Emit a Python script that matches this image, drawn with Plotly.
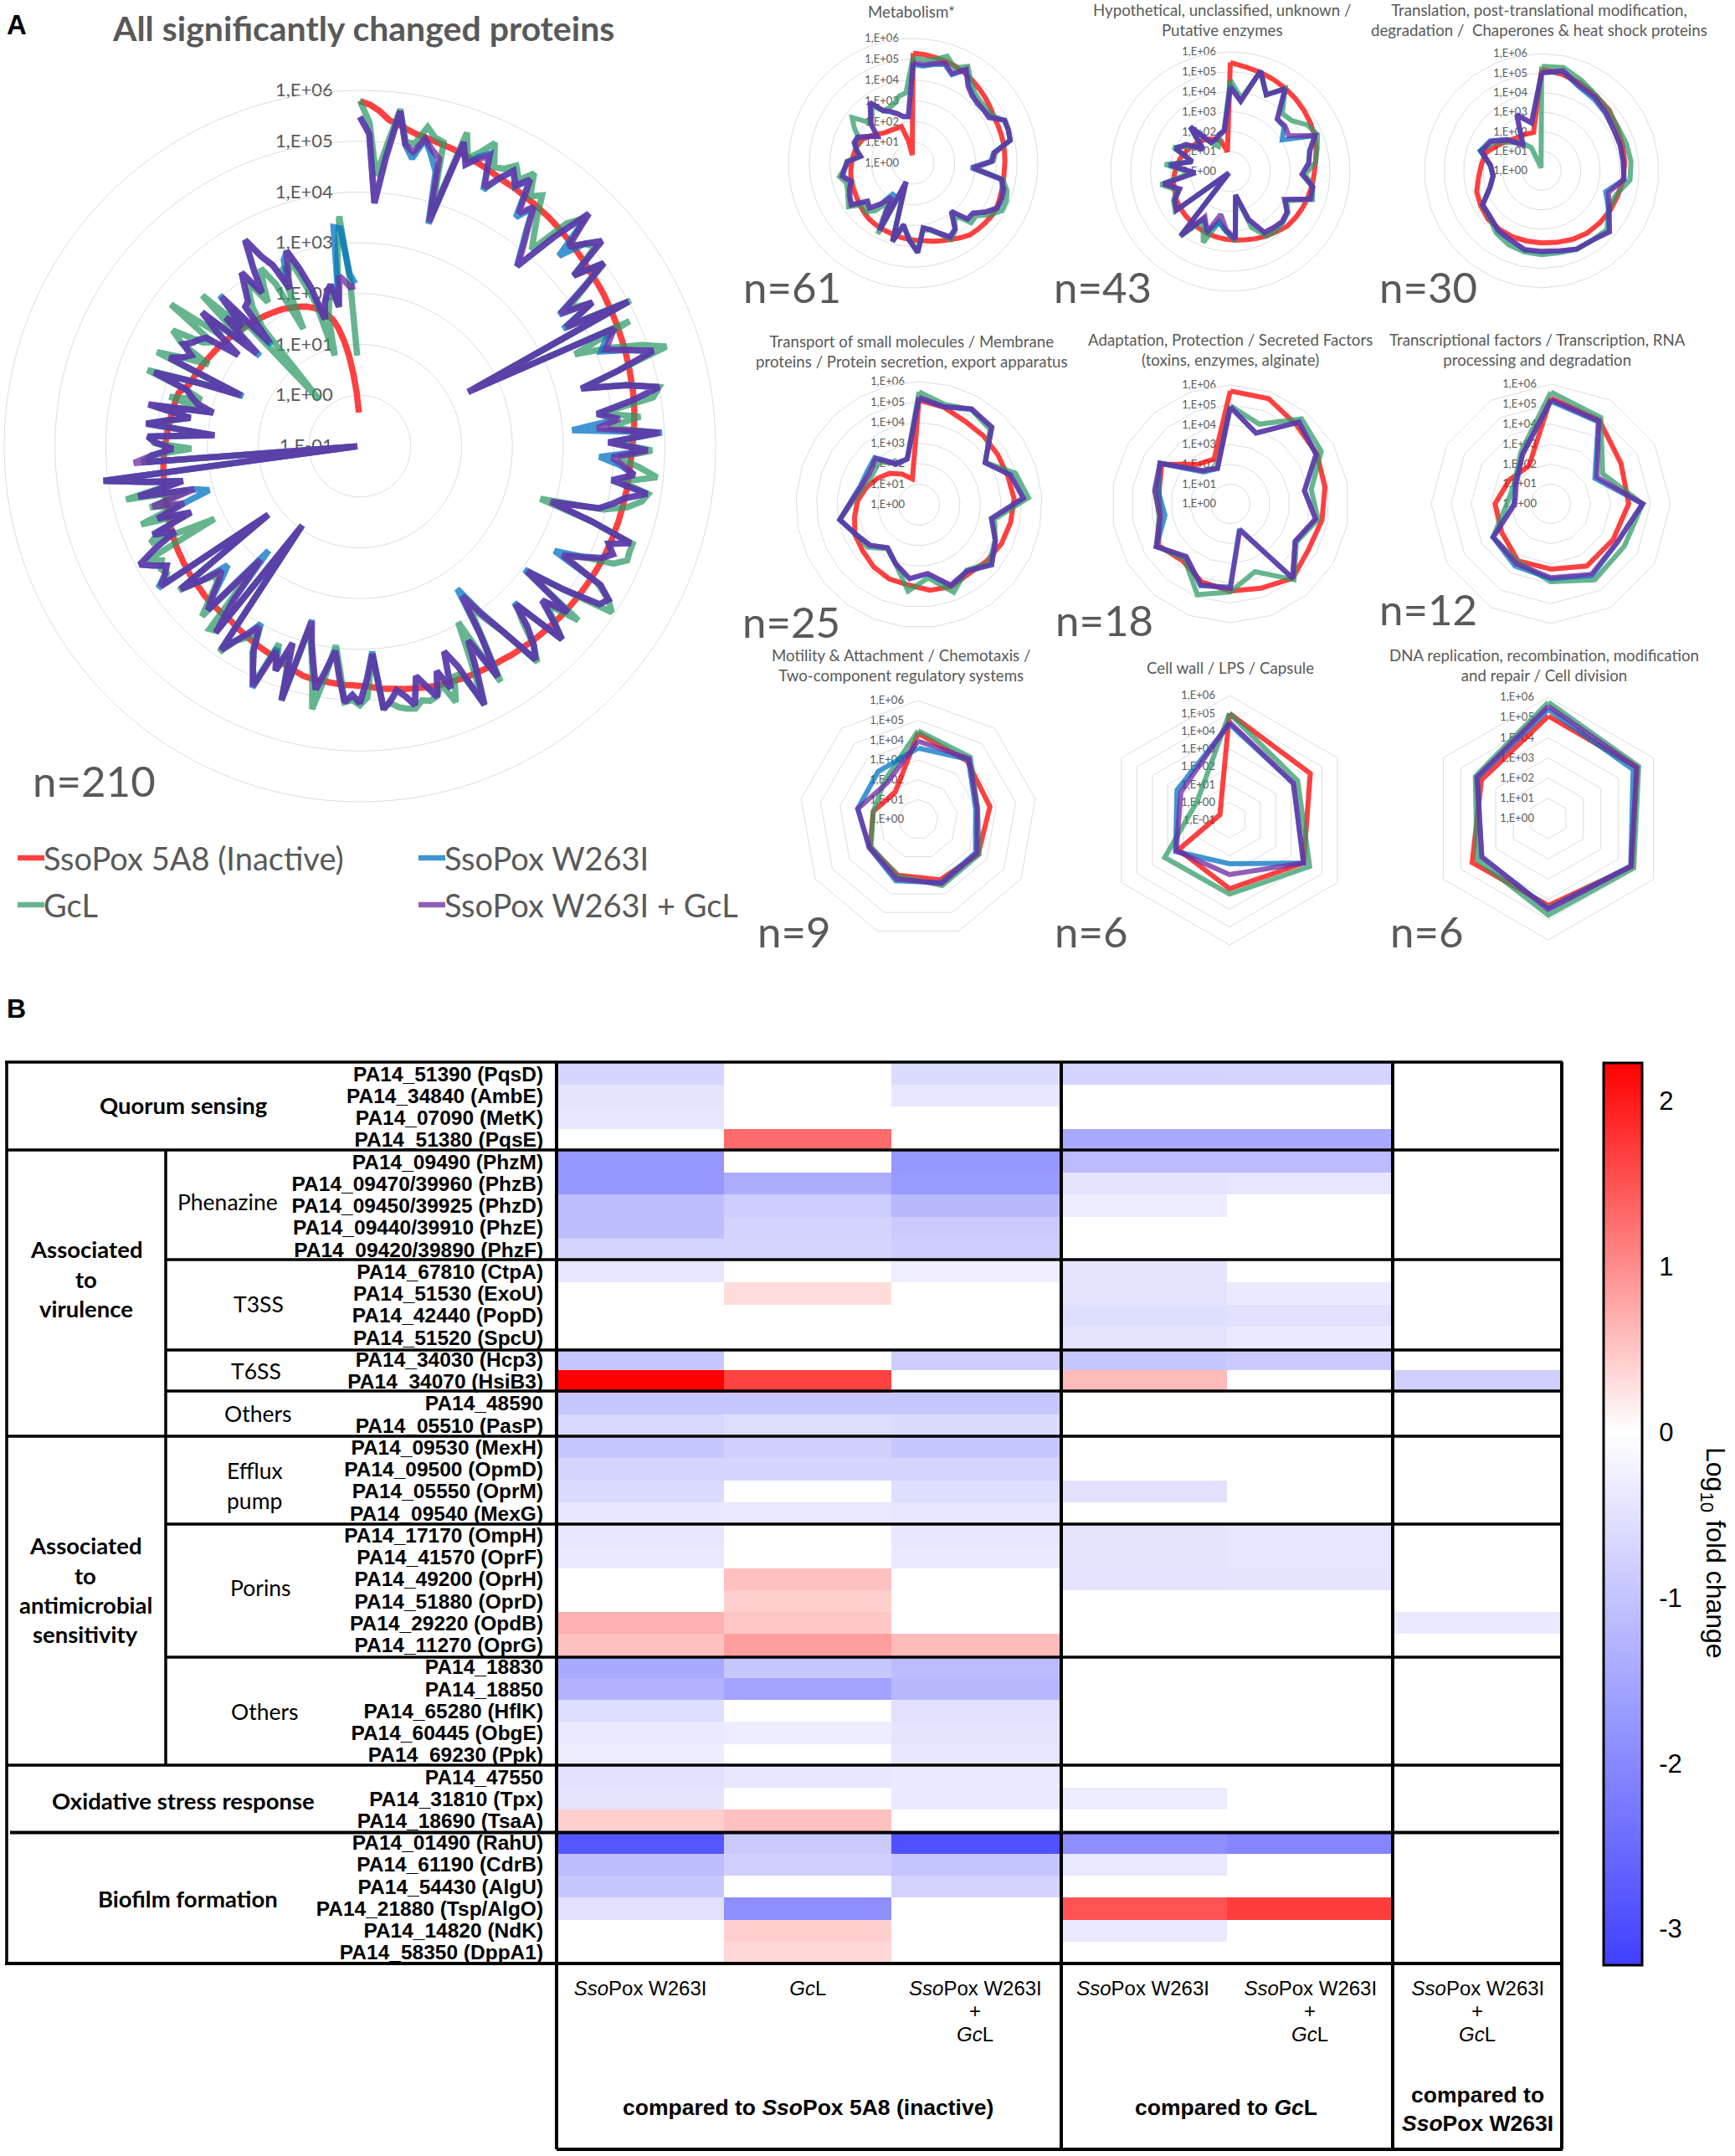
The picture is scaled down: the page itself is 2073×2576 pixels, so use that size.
import plotly.graph_objects as go

W, H = 2073, 2576
SERIES = ["SsoPox 5A8 (Inactive)", "GcL", "SsoPox W263I", "SsoPox W263I + GcL"]
COLORS = ["rgba(255,0,0,0.75)", "rgba(43,152,100,0.72)", "rgba(0,115,195,0.75)", "rgba(112,44,164,0.77)"]
TICK_E = [-1, 0, 1, 2, 3, 4, 5, 6]
TICK_T = ["1,E-01", "1,E+00", "1,E+01", "1,E+02", "1,E+03", "1,E+04", "1,E+05", "1,E+06"]

# log10 abundances, clockwise from 12 o'clock
all_red = [5.79,5.72,5.6,5.44,5.38,5.3,5.24,5.21,5.18,5.15,5.13,5.1,5.07,5.04,5.01,4.98,4.95,4.93,4.92,4.9,
4.88,4.87,4.85,4.84,4.82,4.8,4.78,4.76,4.74,4.72,4.7,4.68,4.67,4.66,4.65,4.63,4.62,4.6,4.59,4.57,
4.56,4.55,4.53,4.52,4.5,4.49,4.48,4.46,4.45,4.43,4.41,4.39,4.37,4.35,4.34,4.33,4.33,4.32,4.32,4.31,
4.31,4.3,4.3,4.29,4.29,4.28,4.28,4.27,4.26,4.25,4.24,4.23,4.22,4.21,4.2,4.19,4.18,4.17,4.15,4.14,
4.13,4.12,4.1,4.09,4.08,4.06,4.05,4.04,4.03,4.02,4.01,4.0,3.98,3.97,3.96,3.94,3.92,3.9,3.88,3.86,
3.83,3.81,3.79,3.76,3.73,3.72,3.71,3.71,3.7,3.69,3.68,3.68,3.67,3.66,3.62,3.59,3.55,3.52,3.48,3.45,
3.43,3.4,3.38,3.36,3.33,3.31,3.28,3.27,3.27,3.26,3.26,3.25,3.24,3.22,3.21,3.2,3.19,3.17,3.16,3.14,
3.13,3.11,3.09,3.07,3.05,3.03,3.0,2.98,2.97,2.95,2.94,2.93,2.91,2.9,2.89,2.87,2.86,2.84,2.83,2.81,
2.8,2.78,2.77,2.76,2.75,2.74,2.73,2.72,2.65,2.57,2.55,2.53,2.51,2.49,2.47,2.45,2.43,2.41,2.39,2.37,
2.35,2.33,2.31,2.29,2.27,2.25,2.23,2.21,2.19,2.17,2.15,2.13,2.11,2.09,2.06,2.03,2.0,1.97,1.93,1.88,
1.82,1.75,1.65,1.54,1.35,1.1,0.8,0.42,0.05,-0.34]
all_green = [5.8,5.37,4.33,4.95,5.68,5.05,5.05,5.42,5.25,5.2,3.75,5.52,5.05,5.25,5.53,5.09,5.15,5.32,5.1,5.37,
4.95,5.1,4.7,4.4,4.14,4.98,5.3,4.7,4.95,5.06,4.4,5.0,4.4,3.9,4.35,3.73,5.05,1.5,4.85,3.6,
4.3,4.9,5.34,4.3,3.55,4.4,5.0,4.85,3.8,4.55,3.9,4.85,4.0,4.75,4.1,4.5,4.88,4.2,4.75,4.65,
4.4,3.95,2.7,3.8,4.7,4.7,4.72,4.5,3.85,3.6,4.4,4.75,4.94,3.9,3.11,4.5,3.8,4.15,4.5,3.4,
3.7,4.2,4.5,3.65,3.2,2.8,3.5,4.4,2.97,3.7,4.6,3.9,3.9,4.38,3.95,4.15,4.2,4.15,4.28,4.25,
4.2,4.1,4.15,3.1,3.95,4.1,4.0,4.05,3.4,2.95,3.6,4.26,3.5,3.05,2.7,4.2,3.3,3.7,3.2,4.1,
3.85,3.6,3.15,3.4,3.55,3.9,1.0,3.6,3.66,2.05,3.57,3.2,2.9,2.8,3.1,3.55,1.3,3.7,3.55,3.6,
3.5,3.75,2.2,3.54,3.3,2.7,3.57,2.75,3.3,2.5,3.72,2.6,3.3,4.09,-0.9,3.3,3.1,2.32,3.05,3.15,
1.95,3.2,2.75,2.4,3.1,2.05,2.87,2.25,2.6,3.44,2.4,1.6,3.4,2.9,2.38,3.05,3.33,2.7,2.55,3.65,
2.5,2.9,2.05,3.29,2.2,2.7,0.22,2.0,2.45,2.7,2.9,2.36,2.7,3.0,2.6,1.56,2.83,2.7,2.9,2.4,
1.95,0.85,1.6,1.9,2.2,1.8,2.7,3.54,2.3,0.78]
all_blue = [5.48,5.15,3.79,4.7,5.64,5.0,4.75,5.18,4.9,4.6,3.58,5.32,4.92,5.15,5.3,4.6,4.93,5.2,4.95,5.22,
4.45,4.8,4.35,4.0,3.7,4.6,5.42,4.42,4.95,5.24,4.38,5.0,4.3,3.7,4.38,3.62,5.0,1.38,4.5,4.25,
4.1,4.6,5.07,4.3,3.5,4.38,5.0,4.4,3.71,4.1,3.19,4.95,3.89,4.66,3.72,4.15,4.43,4.0,4.73,4.31,
4.1,3.86,2.95,3.8,4.66,4.26,4.4,4.24,3.85,3.35,4.47,4.75,4.65,3.9,3.05,4.24,3.7,4.1,4.5,3.33,
3.85,4.2,4.44,3.63,3.05,2.4,3.4,4.29,3.38,4.0,4.65,3.75,3.37,4.09,3.68,4.17,3.9,3.66,4.21,4.0,
3.86,4.05,4.2,3.05,3.6,4.06,3.9,4.05,3.55,3.05,3.45,3.87,3.4,3.0,2.55,4.24,3.1,3.72,3.3,4.2,
3.85,3.54,3.0,3.3,3.55,3.85,0.93,3.64,2.9,1.73,3.4,3.1,2.75,2.5,3.1,3.51,1.25,3.85,3.6,3.47,
3.7,3.92,3.5,3.01,3.43,2.57,3.23,2.64,2.09,2.37,3.47,2.55,3.3,4.09,-0.95,3.2,3.1,2.68,3.0,3.18,
1.87,3.23,2.8,2.38,3.24,1.96,2.3,2.45,2.58,3.3,2.4,1.5,3.13,2.9,2.77,3.01,2.87,2.8,2.7,1.99,
2.6,3.07,1.65,2.65,2.3,3.05,1.65,2.55,2.6,2.85,3.13,2.58,3.1,3.64,3.2,2.95,2.39,2.95,3.1,2.7,
2.26,1.59,1.9,2.1,2.23,1.77,3.34,3.3,2.4,2.2]
all_purple = [5.48,5.15,3.79,4.7,5.64,5.0,4.88,5.18,5.0,4.86,3.62,5.32,4.92,5.1,5.26,4.65,4.93,5.2,4.98,5.22,
4.55,4.82,4.4,4.05,3.71,4.6,5.42,4.68,4.95,5.24,4.38,5.0,4.35,3.73,4.38,3.68,5.0,1.38,4.52,4.35,
4.2,4.6,5.07,4.3,3.5,4.38,5.0,4.4,3.71,4.14,3.68,4.91,3.89,4.66,3.97,4.2,4.43,4.01,4.73,4.31,
4.1,3.86,2.91,3.8,4.66,4.26,4.42,4.24,3.9,3.53,4.47,4.75,4.65,3.9,3.11,4.24,3.7,4.1,4.5,3.37,
3.85,4.2,4.44,3.63,3.1,2.57,3.4,4.29,3.38,4.0,4.65,3.75,3.37,4.09,3.68,4.17,3.9,3.66,4.21,4.0,
3.86,4.05,4.2,3.1,3.6,4.06,3.9,4.05,3.55,3.07,3.45,3.87,3.4,3.0,2.58,4.24,3.1,3.72,3.36,4.17,
3.85,3.54,3.07,3.3,3.55,3.85,0.93,3.64,2.9,1.97,3.4,3.12,2.85,2.66,3.1,3.51,1.25,3.79,3.6,3.47,
3.7,3.92,3.5,3.01,3.43,2.57,3.23,2.64,3.25,2.37,3.47,2.55,3.3,4.09,-0.95,3.46,3.1,2.68,3.0,3.18,
1.87,3.23,2.8,2.38,3.24,1.96,2.3,2.45,2.58,3.3,2.4,1.54,3.13,2.9,2.77,3.01,2.87,2.8,2.7,1.99,
2.6,3.07,1.72,2.65,2.3,3.0,1.7,2.55,2.6,2.85,3.13,2.58,3.1,3.64,3.2,2.95,2.39,2.75,3.1,2.7,
2.26,1.59,1.9,2.1,2.23,1.77,2.37,2.25,2.13,2.15]

met_red = [5.3,5.25,5.2,5.15,5.1,5.0,4.9,4.8,4.7,4.6,4.5,4.47,4.46,4.45,4.43,4.42,4.4,4.42,4.45,4.5,4.55,4.55,4.5,4.45,4.4,4.25,4.1,3.98,3.88,3.78,3.72,3.67,3.62,3.57,3.52,3.5,3.46,3.42,3.35,3.28,3.2,3.15,3.12,3.08,3.05,3.0,2.95,2.9,2.85,2.78,2.7,2.5,2.3,2.1,1.98,1.92,1.88,1.85,1.85,1.1,0.4]
met_green = [5.1,5.0,5.1,5.4,5.0,5.35,4.8,4.5,4.4,4.4,4.45,4.85,4.85,4.8,4.0,3.85,3.0,4.4,4.7,4.85,4.85,4.45,3.95,4.0,3.2,3.8,4.1,3.65,3.35,3.2,4.3,3.6,3.1,3.9,1.2,3.8,2.2,2.9,3.3,3.1,3.75,3.55,3.4,3.35,3.6,3.3,3.2,2.6,2.8,2.9,2.9,3.3,3.66,2.9,3.0,3.4,2.9,2.9,3.0,3.3,3.4]
met_blue = [4.75,4.7,4.85,5.0,4.65,5.15,4.6,4.35,4.2,4.25,4.3,4.85,4.85,4.8,3.9,3.75,2.8,4.3,4.5,4.6,4.6,4.2,3.75,3.75,2.95,3.75,3.95,3.6,3.3,3.15,4.3,3.7,3.0,3.85,0.95,3.6,1.7,2.5,3.0,2.85,3.55,3.45,3.3,3.1,3.45,3.3,3.15,2.55,2.8,3.0,2.95,2.5,2.15,2.75,3.1,3.55,2.9,2.7,2.5,2.3,2.25]
met_purple = [4.85,4.77,4.9,5.06,4.7,5.2,4.55,4.3,4.26,4.25,4.25,4.88,4.85,4.8,3.94,3.8,2.87,4.32,4.55,4.6,4.58,4.2,3.75,3.75,2.97,3.76,3.98,3.6,3.3,3.14,4.31,3.7,3.0,3.9,0.96,3.62,1.93,2.5,3.02,2.86,3.6,3.45,3.3,3.12,3.47,3.3,3.15,2.55,2.8,3.0,2.95,2.5,2.14,2.74,3.1,3.59,2.9,2.72,2.5,2.28,2.25]

hyp_red = [5.47,5.3,5.2,5.1,5.0,4.9,4.8,4.7,4.6,4.45,4.3,4.2,4.15,4.1,4.05,4.0,3.95,3.8,3.7,3.6,3.5,3.45,3.4,3.35,3.3,3.25,3.2,3.15,3.1,3.05,2.95,2.9,2.8,2.7,2.6,2.45,2.35,2.2,2.1,1.95,1.8,1.6,1.0]
hyp_green = [4.6,3.7,5.26,4.25,5.0,3.9,4.0,4.5,4.75,4.5,4.3,3.75,4.2,4.35,3.2,3.55,3.65,3.75,3.7,3.0,1.3,3.5,3.0,2.6,3.8,2.8,4.1,0.2,3.4,3.2,2.85,3.55,2.0,3.3,2.0,3.1,2.4,1.9,3.0,1.7,1.4,1.85,2.1]
hyp_blue = [4.3,3.57,5.26,4.25,4.97,3.53,3.5,3.05,4.6,4.1,3.95,3.6,4.2,4.25,3.06,3.5,3.65,3.55,3.5,2.6,1.2,3.4,3.0,2.6,3.2,2.7,4.0,0.1,3.32,3.14,2.7,3.4,1.76,3.1,1.97,3.0,2.6,1.77,3.0,1.75,1.76,1.94,2.1]
hyp_purple = [4.2,3.57,5.26,4.25,4.97,3.53,3.57,3.44,4.62,4.13,3.96,3.6,4.2,4.25,3.06,3.5,3.6,3.55,3.5,2.56,1.2,3.4,2.9,2.2,3.24,2.6,4.08,0.1,3.32,3.14,2.68,3.42,1.76,3.03,1.97,2.97,2.6,1.77,3.0,1.75,1.76,1.94,2.06]

tra_red = [5.2,5.05,4.9,4.75,4.65,4.45,4.35,4.28,4.2,4.1,4.05,4.0,3.95,3.85,3.75,3.7,3.68,3.7,3.7,3.7,3.6,3.5,3.25,3.1,3.0,2.6,2.3,2.1,2.05,2.0]
tra_green = [5.35,5.4,5.05,4.75,4.6,4.5,4.55,4.6,4.55,4.0,3.95,4.5,4.4,4.4,4.3,4.3,4.25,4.15,3.95,3.6,3.5,2.8,2.5,2.65,3.3,2.85,2.2,1.8,1.3,0.15]
tra_blue = [5.0,5.2,4.7,4.55,4.4,4.25,4.23,4.2,4.25,3.45,3.95,4.65,4.4,4.4,4.2,4.15,4.15,3.9,3.8,3.55,3.5,2.78,2.5,2.65,3.3,3.05,2.4,1.65,3.1,2.5]
tra_purple = [5.02,5.24,4.77,4.65,4.43,4.25,4.23,4.2,4.23,3.6,4.0,4.68,4.4,4.39,4.2,4.13,4.13,3.88,3.77,3.53,3.49,2.78,2.5,2.62,3.24,3.0,2.36,1.6,3.15,2.5]

tsp_red = [5.1,4.9,4.65,4.6,4.55,4.55,4.65,4.55,4.45,4.3,4.15,4.3,4.2,3.95,3.9,3.75,3.55,3.45,3.2,3.0,2.7,2.4,2.1,1.7,1.3]
tsp_green = [5.5,5.05,5.3,5.05,3.85,4.95,5.35,3.75,4.1,4.45,3.95,4.6,3.6,4.25,3.1,2.65,3.25,3.4,3.93,3.2,2.85,2.7,2.85,2.3,2.3]
tsp_blue = [5.2,4.93,5.3,5.19,3.82,4.7,5.1,3.6,4.12,4.6,4.0,4.25,3.4,3.65,3.1,2.6,3.1,3.4,3.93,3.3,3.0,3.0,3.15,2.3,2.3]
tsp_purple = [5.24,4.93,5.34,5.19,3.82,4.69,5.1,3.6,4.12,4.6,4.0,4.22,3.38,3.63,3.09,2.6,3.1,3.4,3.93,3.28,2.95,2.86,3.09,2.26,2.3]

ada_red = [5.7,5.65,5.2,5.05,4.85,4.7,4.57,4.9,4.53,4.4,4.2,3.75,4.2,3.6,3.65,4.0,2.6,2.4]
ada_green = [4.95,4.28,5.6,5.3,4.15,4.5,3.85,5.0,3.64,4.45,4.88,3.6,4.3,3.65,3.85,4.1,2.2,1.95]
ada_blue = [4.9,3.8,5.39,5.0,3.8,4.37,3.78,4.9,1.36,4.2,4.4,3.47,4.32,3.35,3.7,4.1,2.1,1.9]
ada_purple = [4.89,3.8,5.39,5.0,3.8,4.37,3.78,4.9,1.4,4.26,4.35,3.47,4.32,3.6,3.88,4.1,2.2,1.9]

tcr_red = [5.3,4.85,4.06,3.9,3.6,3.6,3.27,3.3,2.85,2.8,2.4,2.2]
tcr_green = [5.6,5.0,3.0,4.6,4.25,4.4,3.9,3.35,3.35,2.2,2.1,3.0]
tcr_blue = [5.15,4.75,2.55,4.6,3.85,4.15,3.75,3.6,3.35,1.85,2.05,2.85]
tcr_purple = [5.22,4.8,2.67,4.6,3.84,4.08,3.7,3.46,3.33,1.8,2.0,2.85]

mot_red = [4.35,3.85,3.68,3.5,3.25,3.0,2.8,2.3,1.8]
mot_green = [4.47,4.1,3.05,3.55,3.55,3.05,2.75,2.3,2.6]
mot_blue = [3.6,3.95,2.95,3.35,3.4,3.3,2.85,3.1,3.15]
mot_purple = [3.95,4.0,3.04,3.43,3.45,3.2,2.84,3.09,2.42]

cel_red = [5.0,4.24,3.8,2.85,2.3,-0.38]
cel_green = [5.0,3.42,4.2,3.15,3.2,1.1]
cel_blue = [4.4,3.14,3.8,1.44,2.5,2.4]
cel_purple = [4.5,3.15,3.8,2.05,2.45,2.15]

dna_red = [5.07,5.05,4.75,4.3,4.35,3.82]
dna_green = [5.75,5.16,4.87,4.78,4.07,4.17]
dna_blue = [5.4,4.84,4.7,4.45,3.8,4.05]
dna_purple = [5.55,5.05,4.72,4.5,3.8,4.08]

# heatmap: log10 fold change, None = not significant
row_labels = ["PA14_51390 (PqsD)","PA14_34840 (AmbE)","PA14_07090 (MetK)","PA14_51380 (PqsE)","PA14_09490 (PhzM)",
"PA14_09470/39960 (PhzB)","PA14_09450/39925 (PhzD)","PA14_09440/39910 (PhzE)","PA14_09420/39890 (PhzF)","PA14_67810 (CtpA)",
"PA14_51530 (ExoU)","PA14_42440 (PopD)","PA14_51520 (SpcU)","PA14_34030 (Hcp3)","PA14_34070 (HsiB3)","PA14_48590","PA14_05510 (PasP)",
"PA14_09530 (MexH)","PA14_09500 (OpmD)","PA14_05550 (OprM)","PA14_09540 (MexG)","PA14_17170 (OmpH)","PA14_41570 (OprF)",
"PA14_49200 (OprH)","PA14_51880 (OprD)","PA14_29220 (OpdB)","PA14_11270 (OprG)","PA14_18830","PA14_18850","PA14_65280 (HflK)",
"PA14_60445 (ObgE)","PA14_69230 (Ppk)","PA14_47550","PA14_31810 (Tpx)","PA14_18690 (TsaA)","PA14_01490 (RahU)","PA14_61190 (CdrB)",
"PA14_54430 (AlgU)","PA14_21880 (Tsp/AlgO)","PA14_14820 (NdK)","PA14_58350 (DppA1)"]
N = None
heat = [
[-0.7,N,-0.6,-0.75,-0.72,N],[-0.45,N,-0.4,N,N,N],[-0.42,N,N,N,N,N],[N,1.3,N,-1.45,-1.45,N],
[-1.75,N,-1.75,-1.15,-1.15,N],[-1.75,-1.4,-1.7,-0.45,-0.42,N],[-1.1,-0.85,-1.2,-0.3,N,N],[-1.1,-0.75,-0.9,N,N,N],[-0.7,-0.7,-0.85,N,N,N],
[-0.42,N,-0.28,-0.45,N,N],[N,0.3,N,-0.45,-0.35,N],[N,N,N,-0.55,-0.5,N],[N,N,N,-0.45,-0.35,N],
[-0.95,N,-0.85,-0.95,-0.9,N],[2.23,1.65,N,0.6,N,-0.8],[-0.95,-0.95,-0.95,N,N,N],[-0.65,-0.55,-0.6,N,N,N],
[-0.95,-0.8,-0.95,N,N,N],[-0.7,-0.7,-0.7,N,N,N],[-0.6,N,-0.55,-0.5,N,N],[-0.4,-0.38,-0.42,N,N,N],
[-0.42,N,-0.42,-0.45,-0.42,N],[-0.35,N,-0.35,-0.45,-0.42,N],[N,0.55,N,-0.48,-0.45,N],[N,0.42,N,N,N,N],[0.7,0.5,N,N,N,-0.35],[0.55,0.85,0.6,N,N,N],
[-1.45,-0.95,-1.15,N,N,N],[-1.3,-1.55,-1.2,N,N,N],[-0.55,N,-0.5,N,N,N],[-0.35,-0.3,-0.45,N,N,N],[-0.3,N,-0.42,N,N,N],
[-0.5,-0.4,-0.35,N,N,N],[-0.45,N,-0.35,-0.32,N,N],[0.42,0.55,N,N,N,N],
[-2.85,-0.9,-2.95,-1.9,-2.05,N],[-1.1,-0.8,-1.0,-0.38,N,N],[-0.95,N,-0.75,N,N,N],[-0.5,-1.9,N,1.5,1.7,N],[N,0.42,N,-0.38,N,N],[N,0.35,N,N,N,N]]
col_labels = ["<i>Sso</i>Pox W263I","<i>Gc</i>L","<i>Sso</i>Pox W263I","<i>Sso</i>Pox W263I","<i>Sso</i>Pox W263I","<i>Sso</i>Pox W263I"]

fig = go.Figure()

def px_x(x): return x / W
def px_y(y): return 1 - y / H

# (red, green, blue, purple, cx, cy, R, rmin, width, closed, label font, tick offset)
charts = [
 (all_red, all_green, all_blue, all_purple, 430, 533, 425, -1, 7.5, False, 22, 24),
 (met_red, met_green, met_blue, met_purple, 1091, 195, 149, 0, 6, True, 13, 12),
 (hyp_red, hyp_green, hyp_blue, hyp_purple, 1470, 205, 143, 0, 6, True, 13, 12),
 (tra_red, tra_green, tra_blue, tra_purple, 1842, 204, 140, 0, 6, True, 13, 12),
 (tsp_red, tsp_green, tsp_blue, tsp_purple, 1098, 603, 147, 0, 6, True, 13, 12),
 (ada_red, ada_green, ada_blue, ada_purple, 1470, 602, 142, 0, 6, True, 13, 12),
 (tcr_red, tcr_green, tcr_blue, tcr_purple, 1853, 602, 143, 0, 6, True, 13, 12),
 (mot_red, mot_green, mot_blue, mot_purple, 1097, 979, 142, 0, 6, True, 13, 12),
 (cel_red, cel_green, cel_blue, cel_purple, 1469, 980, 149, -1, 6, True, 13, 12),
 (dna_red, dna_green, dna_blue, dna_purple, 1850, 978, 145, 0, 6, True, 13, 12),
]
GRID = "#DDDDDD"
layout_extra = {}
for k, (red, green, blue, purple, cx, cy, R, rmin, lw, closed, fs, off) in enumerate(charts):
    key = "polar" if k == 0 else f"polar{k+1}"
    n = len(red)
    assert len(green) == n and len(blue) == n and len(purple) == n, (k, n, len(green), len(blue), len(purple))
    cats = [str(i + 1) for i in range(n)]
    for name, vals, col in zip(SERIES, (red, green, blue, purple), COLORS):
        th = cats + cats[:1] if closed else cats
        rr = vals + vals[:1] if closed else vals
        fig.add_trace(go.Scatterpolar(r=rr, theta=th, mode="lines", name=name, subplot=key, showlegend=False,
                                      line=dict(color=col, width=lw, shape="linear"), hoverinfo="skip"))
    tv = [t for t in TICK_E if t >= rmin]
    tt = [TICK_T[TICK_E.index(t)] for t in tv]
    layout_extra[key] = dict(
        domain=dict(x=[px_x(cx - R), px_x(cx + R)], y=[px_y(cy + R), px_y(cy - R)]),
        bgcolor="rgba(0,0,0,0)", gridshape="linear",
        angularaxis=dict(type="category", categoryorder="array", categoryarray=cats, direction="clockwise", rotation=90,
                         showgrid=False, showticklabels=False, ticks="", showline=True, linecolor=GRID, linewidth=1),
        radialaxis=dict(range=[rmin, 6], tickmode="array", tickvals=tv, ticktext=tt, angle=90, tickangle=90,
                        side="counterclockwise", showline=False, ticks="outside", ticklen=off, tickcolor="rgba(0,0,0,0)",
                        gridcolor=GRID, gridwidth=1, layer="below traces",
                        tickfont=dict(family="Lato", size=fs, color="#595959")),
    )

# heatmap
CB_TOP, CB_BOT, Z_MIN, Z_MAX = 1270, 2348, -3.22, 2.23
CB_TICKS = [2, 1, 0, -1, -2, -3]
fig.add_trace(go.Heatmap(z=heat, x=list(range(6)), y=row_labels, zmin=Z_MIN, zmax=Z_MAX, hoverongaps=False,
    colorscale=[[0, "rgb(64,64,255)"], [3.22 / 5.45, "rgb(255,255,255)"], [1, "rgb(255,0,0)"]],
    colorbar=dict(x=1916 / W, xanchor="left", xpad=0, y=1 - (CB_TOP + CB_BOT) / 2 / H, yanchor="middle", ypad=0,
                  lenmode="pixels", len=CB_BOT - CB_TOP, thicknessmode="pixels", thickness=46,
                  outlinecolor="black", outlinewidth=3, tickmode="array", tickvals=CB_TICKS,
                  ticktext=[str(t) for t in CB_TICKS], ticks="outside", ticklen=13, tickwidth=1, tickcolor="rgba(0,0,0,0)",
                  tickfont=dict(family="Liberation Sans", size=31, color="black"))))

shapes = []
def hl(y, x0, x1, w=3.5):
    shapes.append(dict(type="line", xref="paper", yref="paper", x0=px_x(x0), x1=px_x(x1), y0=px_y(y), y1=px_y(y), line=dict(color="black", width=w)))
def vl(x, y0, y1, w=3.5):
    shapes.append(dict(type="line", xref="paper", yref="paper", x0=px_x(x), x1=px_x(x), y0=px_y(y0), y1=px_y(y1), line=dict(color="black", width=w)))

hl(1269, 6, 1867); hl(1374, 8, 1863); hl(1505, 198, 1865); hl(1613, 198, 1865); hl(1662, 198, 1865)
hl(1716, 8, 1865); hl(1821, 198, 1865); hl(1980, 198, 1865); hl(2109, 8, 1865); hl(2189.5, 12, 1863, 4)
hl(2346, 6, 1867, 4); hl(2568, 665, 1867, 4)
vl(8, 1269, 2346); vl(198, 1374, 2109); vl(665, 1269, 2568, 4); vl(1268, 1269, 2568, 4); vl(1664, 1269, 2568, 4); vl(1866, 1269, 2568, 4)

# colour bar tick marks on both inner edges of the bar
for t in CB_TICKS:
    y = CB_TOP + (Z_MAX - t) / (Z_MAX - Z_MIN) * (CB_BOT - CB_TOP)
    hl(y, 1916, 1924, 3)
    hl(y, 1954, 1962, 3)

# legend samples
for x0, y, col in [(21, 1025, COLORS[0]), (21, 1081, COLORS[1]), (500, 1025, COLORS[2]), (500, 1081, COLORS[3])]:
    hl(y, x0, x0 + 32, 6.5); shapes[-1]["line"]["color"] = col

ann = []
def txt(x, y, s, size, color="#595959", family="Lato", xanchor="center", angle=0):
    ann.append(dict(xref="paper", yref="paper", x=px_x(x), y=px_y(y), text=s, showarrow=False, xanchor=xanchor, yanchor="middle",
                    textangle=angle, font=dict(family=family, size=size, color=color), align="center"))

txt(6, 29, "<b>A</b>", 33, "black", "Liberation Sans", "left")
txt(6, 1205, "<b>B</b>", 32, "black", "Liberation Sans", "left")
txt(434, 33, "<b>All significantly changed proteins</b>", 41)
txt(37, 932, "n=210", 51, xanchor="left")
for x, y, s in [(886, 343, "n=61"), (1257, 343, "n=43"), (1646, 343, "n=30"), (885, 742, "n=25"), (1259, 740, "n=18"), (1646, 728, "n=12"),
                (903, 1112, "n=9"), (1258, 1112, "n=6"), (1659, 1112, "n=6")]:
    txt(x, y, s, 51, xanchor="left")
for x, y, s in [(50, 1025, SERIES[0]), (50, 1081, SERIES[1]), (529, 1025, SERIES[2]), (529, 1081, SERIES[3])]:
    txt(x, y, s, 38, xanchor="left")
for x, y, s in [(1089, 14, "Metabolism*"),
                (1460, 24, "Hypothetical, unclassified, unknown /<br>Putative enzymes"),
                (1839, 24, "Translation, post-translational modification,<br>degradation /  Chaperones &amp; heat shock proteins"),
                (1089, 420, "Transport of small molecules / Membrane<br>proteins / Protein secretion, export apparatus"),
                (1470, 418, "Adaptation, Protection / Secreted Factors<br>(toxins, enzymes, alginate)"),
                (1837, 418, "Transcriptional factors / Transcription, RNA<br>processing and degradation"),
                (1076, 795, "Motility &amp; Attachment / Chemotaxis /<br>Two-component regulatory systems"),
                (1470, 798, "Cell wall / LPS / Capsule"),
                (1845, 795, "DNA replication, recombination, modification<br>and repair / Cell division")]:
    txt(x, y, s, 18.7)

BK = "black"
BS, RS = 27.5, 26.5
txt(219, 1320, "<b>Quorum sensing</b>", BS, BK)
txt(103, 1493, "<b>Associated</b>", BS, BK); txt(103, 1529, "<b>to</b>", BS, BK); txt(103, 1563, "<b>virulence</b>", BS, BK)
txt(272, 1436, "Phenazine", RS, BK); txt(309, 1558, "T3SS", RS, BK); txt(306, 1638, "T6SS", RS, BK); txt(308, 1689, "Others", RS, BK)
txt(304, 1757, "Efflux", RS, BK); txt(304, 1793, "pump", RS, BK); txt(311, 1897, "Porins", RS, BK); txt(316, 2045, "Others", RS, BK)
txt(102, 1846, "<b>Associated</b>", BS, BK); txt(102, 1882, "<b>to</b>", BS, BK); txt(102, 1917, "<b>antimicrobial</b>", BS, BK); txt(102, 1952, "<b>sensitivity</b>", BS, BK)
txt(219, 2151, "<b>Oxidative stress response</b>", BS, BK); txt(224, 2268, "<b>Biofilm formation</b>", BS, BK)
AR = "Liberation Sans"
for x in (1165, 1565, 1765):
    txt(x, 2402, "+", 24, BK, AR)
    txt(x, 2430, "<i>Gc</i>L", 24, BK, AR)
txt(965, 2518, "<b>compared to <i>Sso</i>Pox 5A8 (inactive)</b>", 26.5, BK, AR)
txt(1465, 2518, "<b>compared to <i>Gc</i>L</b>", 26.5, BK, AR)
txt(1765, 2520, "<b>compared to<br><i>Sso</i>Pox W263I</b>", 26.5, BK, AR)
txt(2048, 1855, "Log<sub>10</sub> fold change", 32, BK, AR, angle=90)

fig.update_layout(width=W, height=H, margin=dict(l=0, r=0, t=0, b=0, pad=0), paper_bgcolor="white", plot_bgcolor="white",
    shapes=shapes, annotations=ann, showlegend=False, **layout_extra,
    xaxis=dict(domain=[665 / W, 1866 / W], range=[-0.5, 5.5], tickmode="array", tickvals=list(range(6)), ticktext=col_labels,
               side="bottom", showgrid=False, zeroline=False, ticks="outside", ticklen=8, tickcolor="rgba(0,0,0,0)",
               tickangle=0, tickfont=dict(family=AR, size=24, color="black")),
    yaxis=dict(domain=[px_y(2346), px_y(1270)], autorange="reversed", type="category", tickmode="array", tickvals=row_labels,
               ticktext=[f"<b>{r}</b>" for r in row_labels], showgrid=False, zeroline=False, ticks="outside", ticklen=10, tickcolor="rgba(0,0,0,0)",
               tickfont=dict(family=AR, size=24.5, color="black")))
fig.write_html("out.html", config={"displayModeBar": False},
               post_script="document.body.style.margin='0';document.documentElement.style.overflow='hidden';")
